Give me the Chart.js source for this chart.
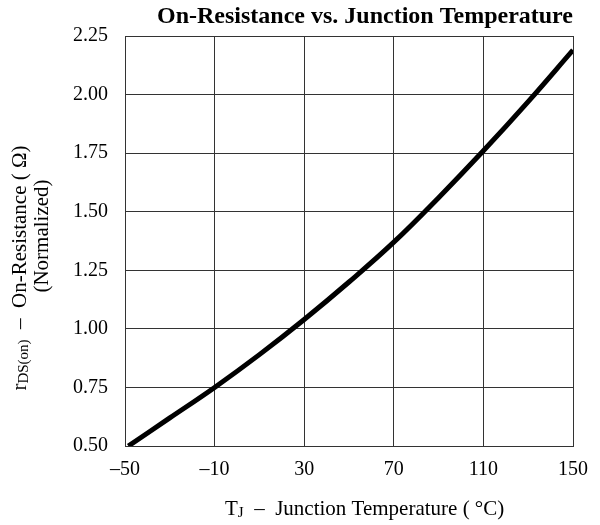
<!DOCTYPE html>
<html>
<head>
<meta charset="utf-8">
<script src="https://cdn.jsdelivr.net/npm/chart.js@4/dist/chart.umd.min.js"></script>
<style>
  body { margin: 0; background: #fff; }
  #wrap { width: 600px; height: 525px; }
</style>
</head>
<body>
<div id="wrap"><canvas id="chart" width="600" height="525"></canvas></div>
<script>
// values
const temps = [-48.5, -30, -10, 10, 30, 50, 70, 90, 110, 130, 150];
const resistance = [0.50, 0.62, 0.75, 0.89, 1.04, 1.20, 1.37, 1.56, 1.76, 1.97, 2.19];
const xTicks = [-50, -10, 30, 70, 110, 150];
const yTicks = [0.50, 0.75, 1.00, 1.25, 1.50, 1.75, 2.00, 2.25];

const serif = "'Liberation Serif', 'Times New Roman', serif";

// draws a row of text pieces (for subscripts); align 'center' or 'left' at x
function drawPieces(ctx, pieces, x, y, align) {
    let total = 0;
    for (const p of pieces) {
        ctx.font = p.font;
        total += ctx.measureText(p.text).width;
    }
    if (align !== 'left') x -= total / 2;
    for (const p of pieces) {
        ctx.font = p.font;
        ctx.fillText(p.text, x, y + (p.dy || 0));
        x += ctx.measureText(p.text).width;
    }
}

const labelsPlugin = {
    id: 'labels',
    afterDraw(chart) {
        const ctx = chart.ctx;
        ctx.save();
        ctx.fillStyle = '#000';
        ctx.textBaseline = 'middle';
        ctx.textAlign = 'left';

        drawPieces(ctx, [{ text: 'On-Resistance vs. Junction Temperature', font: 'bold 24px ' + serif }], 157, 17, 'left');

        drawPieces(ctx, [
            { text: 'T', font: '21px ' + serif },
            { text: 'J', font: '15px ' + serif, dy: 4 },
            { text: '  \u2013  Junction Temperature ( \u00B0C)', font: '21px ' + serif }
        ], 225, 509, 'left');

        ctx.save();
        ctx.translate(20, 268);
        ctx.rotate(-Math.PI / 2);
        drawPieces(ctx, [
            { text: 'r', font: '21px ' + serif },
            { text: 'DS(on)', font: '15px ' + serif, dy: 4 },
            { text: '  \u2013  On-Resistance ( \u03A9)', font: '21px ' + serif }
        ], 0, 0);
        ctx.restore();

        ctx.save();
        ctx.translate(42, 236);
        ctx.rotate(-Math.PI / 2);
        drawPieces(ctx, [{ text: '(Normalized)', font: '21px ' + serif }], 0, 0);
        ctx.restore();

        ctx.restore();
    }
};

new Chart(document.getElementById('chart'), {
    type: 'line',
    data: {
        datasets: [{
            data: temps.map((t, i) => ({ x: t, y: resistance[i] })),
            borderColor: '#000',
            borderWidth: 5,
            pointRadius: 0,
            tension: 0.4,
            fill: false
        }]
    },
    options: {
        responsive: false,
        animation: false,
        layout: { padding: { top: 36, right: 14, left: 0, bottom: 0 } },
        plugins: {
            legend: { display: false },
            title: { display: false },
            tooltip: { enabled: false }
        },
        scales: {
            x: {
                type: 'linear',
                min: -50,
                max: 150,
                afterBuildTicks: (axis) => { axis.ticks = xTicks.map(v => ({ value: v })); },
                afterFit: (axis) => { axis.height = 79; },
                grid: { color: '#333', lineWidth: 1, drawTicks: false },
                border: { color: '#333', width: 1 },
                ticks: {
                    color: '#000',
                    padding: 12,
                    font: { family: serif, size: 20 },
                    callback: (v) => String(v).replace('-', '\u2013')
                }
            },
            y: {
                type: 'linear',
                min: 0.5,
                max: 2.25,
                afterBuildTicks: (axis) => { axis.ticks = yTicks.map(v => ({ value: v })); },
                afterFit: (axis) => { axis.width = 125; },
                grid: { color: '#333', lineWidth: 1, drawTicks: false },
                border: { color: '#333', width: 1 },
                ticks: {
                    color: '#000',
                    padding: 17,
                    font: { family: serif, size: 20 },
                    callback: (v) => Number(v).toFixed(2)
                }
            }
        }
    },
    plugins: [labelsPlugin]
});
</script>
</body>
</html>
